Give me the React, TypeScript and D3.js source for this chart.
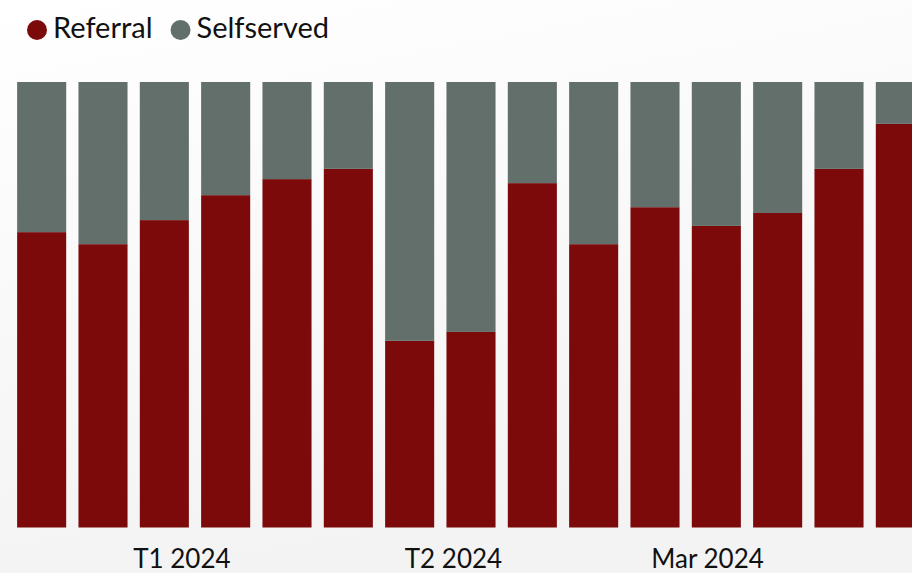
import React, { useEffect, useRef } from 'react';
import * as d3 from 'd3';

// Weekly buckets (centre date of each bar)
const weeks = [
  '2023-12-16', '2023-12-23', '2023-12-30', '2024-01-06', '2024-01-13',
  '2024-01-20', '2024-01-27', '2024-02-03', '2024-02-10', '2024-02-17',
  '2024-02-24', '2024-03-02', '2024-03-09', '2024-03-16', '2024-03-23',
];

// Share of each source, in percent
const referral = [66.3, 63.6, 69.0, 74.6, 78.2, 80.5, 41.9, 43.9, 77.3, 63.6, 71.9, 67.7, 70.6, 80.5, 90.6];
const selfserved = [33.7, 36.4, 31.0, 25.4, 21.8, 19.5, 58.1, 56.1, 22.7, 36.4, 28.1, 32.3, 29.4, 19.5, 9.4];

// Month ticks on the bottom axis
const tickDates = ['2024-01-01', '2024-02-01', '2024-03-01'];
const tickLabels = ['T1 2024', 'T2 2024', 'Mar 2024'];

const seriesNames = ['Referral', 'Selfserved'];
const colors = ['#7c0a0b', '#626f6a'];

const width = 912;
const height = 573;
const margin = {
  top: 82, right: -19, bottom: 45.5, left: 11,
};
const padding = 0.2; // gap between bars, relative to the step
const font = 'Lato, "Open Sans", sans-serif';
const parseTime = d3.timeParse('%Y-%m-%d');
const halfWeek = 3.5 * 24 * 3600 * 1000;

const App: React.FC = () => {
  const gRef = useRef<SVGGElement>(null);

  useEffect(() => {
    const g = d3.select(gRef.current);
    g.selectAll('*').remove();

    const dates = weeks.map((d) => parseTime(d) as Date);
    const rows = dates.map((date, i) => ({ date, Referral: referral[i], Selfserved: selfserved[i] }));

    const x = d3.scaleTime()
      .domain([new Date(dates[0].getTime() - halfWeek), new Date(dates[dates.length - 1].getTime() + halfWeek)])
      .range([margin.left, width - margin.right]);
    const step = (width - margin.left - margin.right) / dates.length;
    const barWidth = step * (1 - padding);

    const y = d3.scaleLinear()
      .domain([0, 100])
      .range([height - margin.bottom, margin.top]);

    const stack = d3.stack<any>().keys(seriesNames)(rows);

    // Bars
    g.append('g')
      .selectAll('g')
      .data(stack)
      .join('g')
      .attr('fill', (_, i) => colors[i])
      .selectAll('rect')
      .data((d) => d)
      .join('rect')
      .attr('x', (d) => x(d.data.date) - barWidth / 2)
      .attr('width', barWidth)
      .attr('y', (d) => y(d[1]))
      .attr('height', (d) => y(d[0]) - y(d[1]));

    // Bottom axis, labels only
    g.append('g')
      .selectAll('text')
      .data(tickDates)
      .join('text')
      .attr('x', (d) => x(parseTime(d) as Date))
      .attr('y', height - 5)
      .attr('text-anchor', 'middle')
      .attr('font-family', font)
      .attr('font-size', 26)
      .attr('fill', '#111')
      .text((_, i) => tickLabels[i]);

    // Legend
    const legend = g.append('g').attr('font-family', font).attr('font-size', 29);
    let lx = 37;
    seriesNames.forEach((name, i) => {
      legend.append('circle').attr('cx', lx).attr('cy', 30).attr('r', 10)
        .attr('fill', colors[i]);
      const t = legend.append('text').attr('x', lx + 16).attr('y', 38)
        .attr('fill', '#111')
        .text(name);
      const w = (t.node() as SVGTextElement).getComputedTextLength();
      lx += 16 + w + 28;
    });
  }, []);

  return (
    <svg
      width={width}
      height={height}
      style={{ position: 'fixed', left: 0, top: 0 }}
    >
      <defs>
        <linearGradient id="bg" x1="0" y1="0" x2="0.3" y2="1">
          <stop offset="0" stopColor="#ffffff" />
          <stop offset="1" stopColor="#f3f3f3" />
        </linearGradient>
      </defs>
      <rect width={width} height={height} fill="url(#bg)" />
      <g ref={gRef} />
    </svg>
  );
};

export default App;
